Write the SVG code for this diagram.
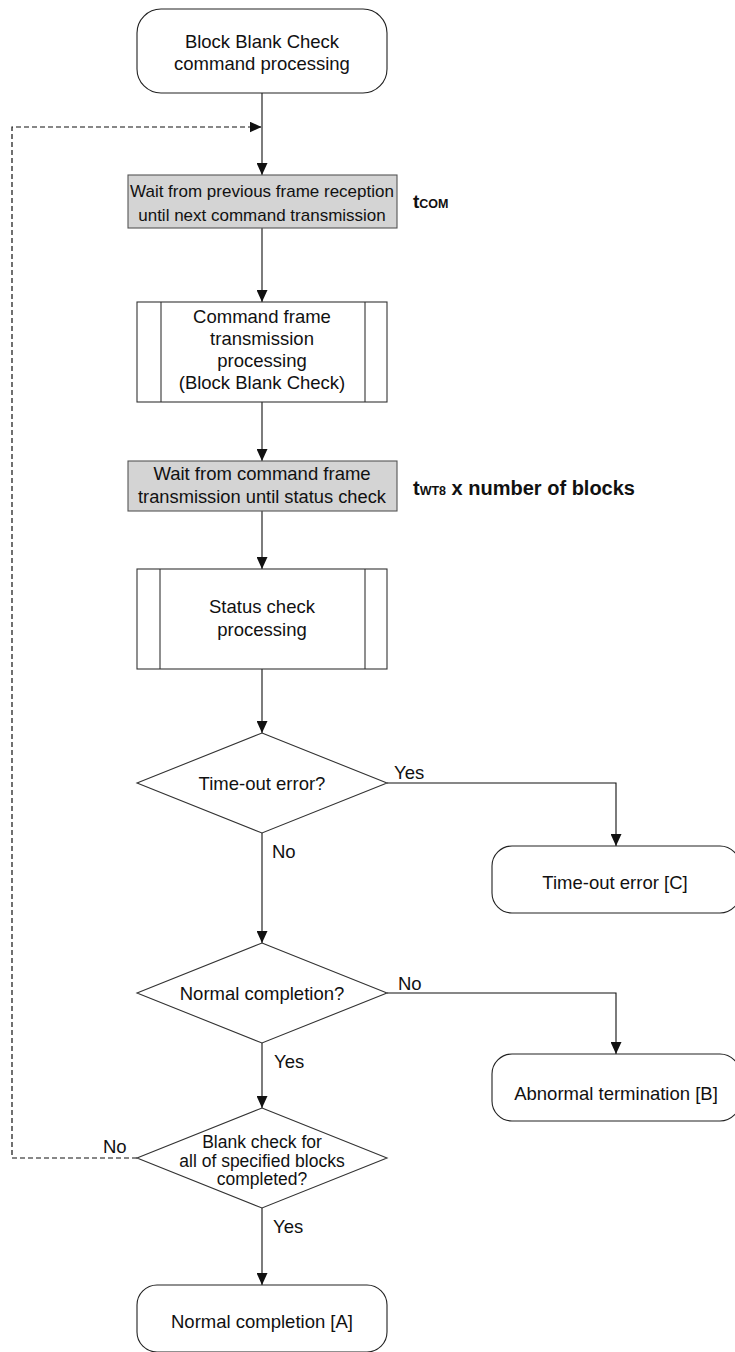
<svg xmlns="http://www.w3.org/2000/svg" width="735" height="1352" viewBox="0 0 735 1352">
<style>
text{font-family:"Liberation Sans",Arial,sans-serif;font-size:18.5px;fill:#111}
.c{text-anchor:middle}
.term{fill:#fff;stroke:#222;stroke-width:1.1}
.box{fill:#fff;stroke:#333;stroke-width:1.1}
.gray{fill:#d4d4d4;stroke:#555;stroke-width:1.1}
.ln{fill:none;stroke:#111;stroke-width:1.1}
.dash{fill:none;stroke:#111;stroke-width:1.2;stroke-dasharray:5 3}
.b{font-weight:bold}
.sm{font-size:17.5px}
.w1{font-size:17px}
</style>
<defs>
<marker id="ah" markerWidth="12" markerHeight="11" refX="12" refY="5.5" orient="auto" markerUnits="userSpaceOnUse" viewBox="0 0 12 11">
<path d="M0,0 L12,5.5 L0,11 Z" fill="#111"/>
</marker>
</defs>

<g id="connectors">
<line class="ln" x1="262" y1="93" x2="262" y2="175" marker-end="url(#ah)"/>
<line class="ln" x1="262" y1="228" x2="262" y2="302" marker-end="url(#ah)"/>
<line class="ln" x1="262" y1="402" x2="262" y2="461" marker-end="url(#ah)"/>
<line class="ln" x1="262" y1="511" x2="262" y2="569" marker-end="url(#ah)"/>
<line class="ln" x1="262" y1="669" x2="262" y2="733" marker-end="url(#ah)"/>
<polyline class="ln" points="387,783 616,783 616,846" marker-end="url(#ah)"/>
<line class="ln" x1="262" y1="833" x2="262" y2="943" marker-end="url(#ah)"/>
<polyline class="ln" points="387,993 616,993 616,1054" marker-end="url(#ah)"/>
<line class="ln" x1="262" y1="1043" x2="262" y2="1108" marker-end="url(#ah)"/>
<line class="ln" x1="262" y1="1208" x2="262" y2="1285" marker-end="url(#ah)"/>
<polyline class="dash" points="137,1158 12,1158 12,127 261.5,127" marker-end="url(#ah)"/>
<text x="394" y="779">Yes</text>
<text x="272" y="858">No</text>
<text x="398" y="990">No</text>
<text x="274" y="1068">Yes</text>
<text x="103" y="1153">No</text>
<text x="273" y="1233">Yes</text>
</g>

<g id="start">
<rect class="term" x="137" y="9" width="250" height="84" rx="24"/>
<text class="c" x="262" y="48">Block Blank Check</text>
<text class="c" x="262" y="70">command processing</text>
</g>

<g id="wait1">
<rect class="gray" x="128" y="175" width="269" height="53"/>
<text class="c w1" x="262" y="197">Wait from previous frame reception</text>
<text class="c w1" x="262" y="221">until next command transmission</text>
</g>
<g id="tcom">
<text class="b" x="413" y="208" style="font-size:19px">t<tspan style="font-size:12.5px">COM</tspan></text>
</g>

<g id="cmdframe">
<rect class="box" x="137" y="302" width="250" height="100"/>
<line class="box" x1="161" y1="302" x2="161" y2="402"/>
<line class="box" x1="365" y1="302" x2="365" y2="402"/>
<text class="c" x="262" y="323">Command frame</text>
<text class="c" x="262" y="345">transmission</text>
<text class="c" x="262" y="367">processing</text>
<text class="c" x="262" y="389">(Block Blank Check)</text>
</g>

<g id="wait2">
<rect class="gray" x="128" y="461" width="269" height="50"/>
<text class="c" x="262" y="480">Wait from command frame</text>
<text class="c" x="262" y="503" style="font-size:18.3px">transmission until status check</text>
</g>
<g id="twt8">
<text class="b" x="413" y="495" style="font-size:20px">t<tspan style="font-size:12.5px">WT8</tspan> x number of blocks</text>
</g>

<g id="status">
<rect class="box" x="137" y="569" width="250" height="100"/>
<line class="box" x1="160" y1="569" x2="160" y2="669"/>
<line class="box" x1="365" y1="569" x2="365" y2="669"/>
<text class="c" x="262" y="613">Status check</text>
<text class="c" x="262" y="636">processing</text>
</g>

<g id="dec_timeout">
<polygon class="box" points="262,733 387,783 262,833 137,783"/>
<text class="c" x="262" y="790">Time-out error?</text>
</g>

<g id="end_c">
<rect class="term" x="492" y="846" width="248" height="67" rx="20"/>
<text class="c" x="615" y="889">Time-out error [C]</text>
</g>

<g id="dec_normal">
<polygon class="box" points="262,943 387,993 262,1043 137,993"/>
<text class="c" x="262" y="1000">Normal completion?</text>
</g>

<g id="end_b">
<rect class="term" x="492" y="1054" width="248" height="67" rx="20"/>
<text class="c" x="616" y="1100">Abnormal termination [B]</text>
</g>

<g id="dec_blank">
<polygon class="box" points="262,1108 387,1158 262,1208 137,1158"/>
<text class="c sm" x="262" y="1148">Blank check for</text>
<text class="c sm" x="262" y="1166.5">all of specified blocks</text>
<text class="c sm" x="262" y="1185">completed?</text>
</g>

<g id="end_a">
<rect class="term" x="137" y="1285" width="250" height="67" rx="20"/>
<text class="c" x="262" y="1328">Normal completion [A]</text>
</g>
</svg>
